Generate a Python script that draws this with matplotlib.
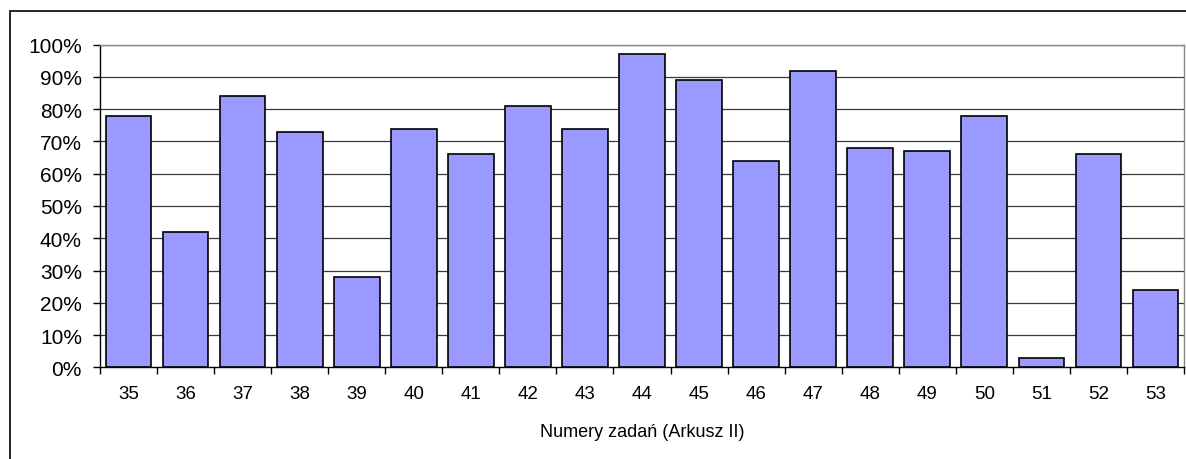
import matplotlib
matplotlib.use("Agg")
import matplotlib.pyplot as plt
from matplotlib.patches import Rectangle
from matplotlib.ticker import FixedLocator, PercentFormatter

# dane z wykresu
zadania = ["35", "36", "37", "38", "39", "40", "41", "42", "43", "44",
           "45", "46", "47", "48", "49", "50", "51", "52", "53"]
wyniki = [78, 42, 84, 73, 28, 74, 66, 81, 74, 97,
          89, 64, 92, 68, 67, 78, 3, 66, 24]
y_ticks = [0, 10, 20, 30, 40, 50, 60, 70, 80, 90, 100]
x_label = "Numery zadań (Arkusz II)"

plt.rcParams['font.family'] = ['Liberation Sans', 'DejaVu Sans']

fig = plt.figure(figsize=(11.86, 4.6), dpi=100)
ax = fig.add_axes([100 / 1186, (460 - 368.3) / 460, 1084 / 1186, 322.6 / 460])

# zewnetrzna ramka wykresu
fig.patches.append(Rectangle((9.5 / 1186, -0.1), 1.2, (460 - 11.5) / 460 + 0.1,
                             transform=fig.transFigure, fill=False,
                             edgecolor='black', lw=1.2))

pos = list(range(len(zadania)))
ax.bar(pos, wyniki, width=0.8, color='#9999FF', edgecolor='black', lw=1.2, zorder=3)

ax.set_xlim(-0.5, len(zadania) - 0.5)
ax.set_ylim(0, 100)

# siatka
for v in y_ticks[1:]:
    ax.axhline(v, color='#3a3a3a', lw=0.9, zorder=1)

ax.set_yticks(y_ticks)
ax.yaxis.set_major_formatter(PercentFormatter(decimals=0))
ax.set_xticks(pos)
ax.set_xticklabels(zadania)
ax.tick_params(axis='x', which='major', length=0, pad=13, labelsize=13.5)
ax.xaxis.set_minor_locator(FixedLocator([p + 0.5 for p in [-1] + pos]))
ax.tick_params(axis='x', which='minor', length=5, direction='out', width=1)
ax.tick_params(axis='y', length=5, direction='out', width=1, pad=8, labelsize=15)

ax.spines['top'].set_color('#888888')
ax.spines['right'].set_color('#888888')
ax.spines['left'].set_color('black')
ax.spines['bottom'].set_color('black')
for s in ax.spines.values():
    s.set_linewidth(1.0)

ax.set_xlabel(x_label, fontsize=13, labelpad=15)

fig.savefig("out.png", dpi=100)
